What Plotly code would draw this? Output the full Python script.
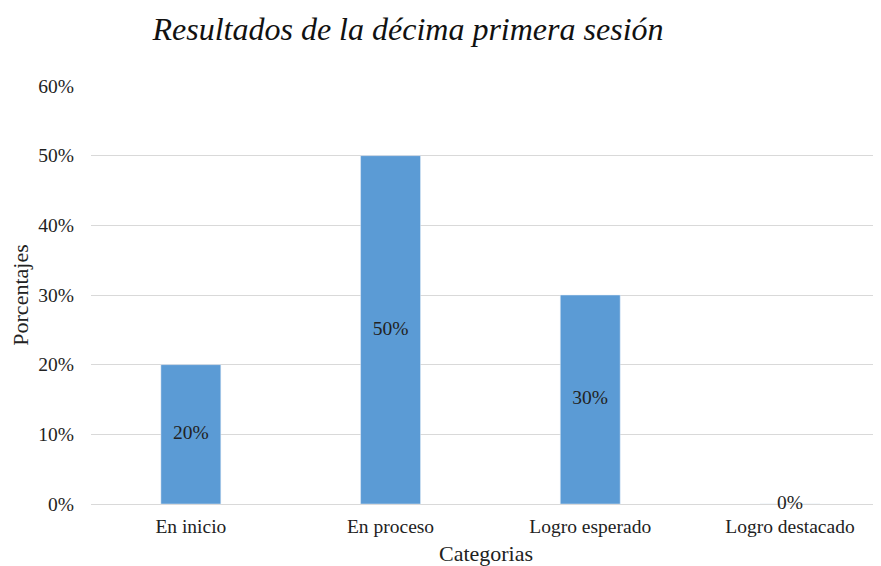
import plotly.graph_objects as go

categories = ["En inicio", "En proceso", "Logro esperado", "Logro destacado"]
values = [20, 50, 30, 0]
labels = ["20%", "50%", "30%", "0%"]
tick_vals = [0, 10, 20, 30, 40, 50, 60]
tick_text = ["0%", "10%", "20%", "30%", "40%", "50%", "60%"]

font_family = "Liberation Serif, Times New Roman, serif"

# page body has an 8px margin; figure is sized to fit the 881x566 window
W, H = 873, 558

fig = go.Figure()
fig.add_trace(go.Bar(
    x=categories, y=values, marker_color="#5B9BD5", width=0.30,
    hoverinfo="skip",
))
fig.add_trace(go.Scatter(
    x=categories, y=[v / 2 for v in values], mode="text", text=labels,
    textfont=dict(family=font_family, size=19.5, color="#222222"),
    textposition="middle center", hoverinfo="skip", cliponaxis=False,
))

fig.update_layout(
    width=W, height=H,
    margin=dict(l=83, r=0, t=78, b=62),
    paper_bgcolor="white", plot_bgcolor="white",
    showlegend=False,
    font=dict(family=font_family, size=19.5, color="#222222"),
    title=dict(
        text="<i>Resultados de la décima primera sesión</i>",
        x=400 / W, xanchor="center", y=1 - 21 / H, yanchor="middle",
        font=dict(family=font_family, size=32, color="#111111"),
    ),
    xaxis=dict(
        range=[-0.5, 3.456], showgrid=False, showline=False, zeroline=False,
        ticks="", tickfont=dict(size=19.5), ticklabelstandoff=8,
        title=dict(text="Categorias", standoff=14, font=dict(size=22)),
    ),
    yaxis=dict(
        range=[0, 60], tickvals=tick_vals, ticktext=tick_text,
        showgrid=True, gridcolor="#d9d9d9", gridwidth=1,
        zeroline=True, zerolinecolor="#d9d9d9", zerolinewidth=1,
        showline=False, ticks="", ticklabelstandoff=16,
        tickfont=dict(size=19.5),
        title=dict(text="Porcentajes", standoff=10, font=dict(size=22)),
    ),
)

fig.write_html("out.html")
